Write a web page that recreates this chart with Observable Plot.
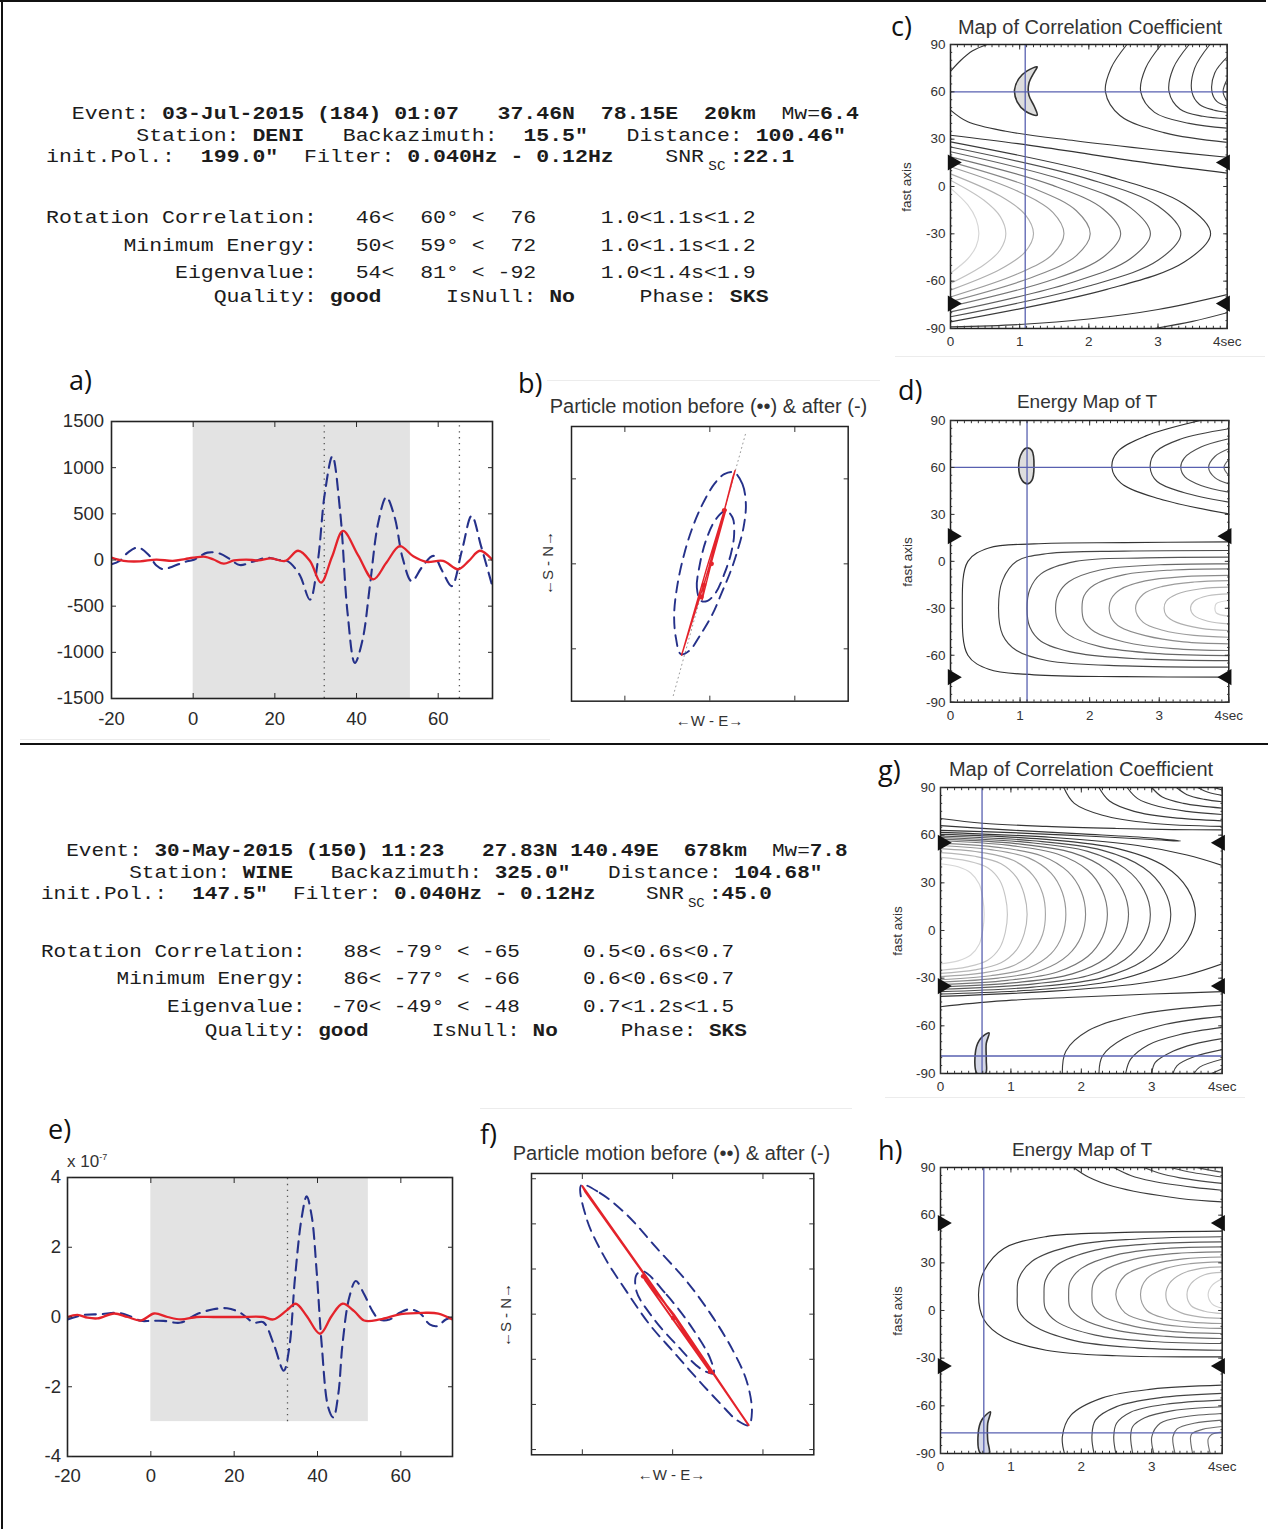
<!DOCTYPE html>
<html><head><meta charset="utf-8">
<script src="https://cdn.jsdelivr.net/npm/d3@7"></script>
<script src="https://cdn.jsdelivr.net/npm/@observablehq/plot@0.6"></script>
<style>
html,body{margin:0;padding:0;background:#fff;}
#fig{position:relative;width:1279px;height:1529px;overflow:hidden;background:#fff;}
.info{position:absolute;font-family:"Liberation Mono","DejaVu Sans Mono",monospace;font-size:18px;line-height:18px;white-space:pre;color:#1c1c1c;letter-spacing:0;transform-origin:0 0;}
.t1{transform:scaleX(1.1944);}
.t2{transform:scaleX(1.1667);}
.sc{display:inline-block;width:21.6px;font-size:12px;line-height:12px;letter-spacing:0;text-align:center;position:relative;top:8px;font-weight:normal;}
.lab{position:absolute;font-family:"Open Sans","Lato",sans-serif;font-size:27px;line-height:30px;color:#111;white-space:nowrap;}
.ttl{position:absolute;font-family:"Liberation Sans",Arial,sans-serif;text-align:center;white-space:nowrap;color:#333;}
.ln{position:absolute;}
</style></head>
<body><div id="fig">
<div class="ln" style="left:0;top:0;width:1266px;height:2px;background:#111"></div>
<div class="ln" style="left:1px;top:0;width:2px;height:1529px;background:#111"></div>
<div class="ln" style="left:20px;top:743px;width:1248px;height:2px;background:#111"></div>
<div class="ln" style="left:20px;top:739px;width:530px;height:1px;background:#ececec"></div>
<div class="ln" style="left:547px;top:380px;width:333px;height:1px;background:#ececec"></div>
<div class="ln" style="left:895px;top:356px;width:370px;height:1px;background:#ececec"></div>
<div class="ln" style="left:885px;top:1097px;width:360px;height:1px;background:#ececec"></div>
<div class="ln" style="left:480px;top:1108px;width:372px;height:1px;background:#ececec"></div>

<div class="info t1" style="left:46px;top:105px">  Event: <b>03-Jul-2015 (184) 01:07   37.46N  78.15E  20km</b>  Mw=<b>6.4</b></div>
<div class="info t1" style="left:46px;top:127px">       Station: <b>DENI</b>   Backazimuth:  <b>15.5″</b>   Distance: <b>100.46″</b></div>
<div class="info t1" style="left:46px;top:148px">init.Pol.:  <b>199.0″</b>  Filter: <b>0.040Hz - 0.12Hz</b>    SNR<span class="sc">SC</span><b>:22.1</b></div>
<div class="info t1" style="left:46px;top:209px">Rotation Correlation:   46&lt;  60° &lt;  76     1.0&lt;1.1s&lt;1.2</div>
<div class="info t1" style="left:46px;top:237px">      Minimum Energy:   50&lt;  59° &lt;  72     1.0&lt;1.1s&lt;1.2</div>
<div class="info t1" style="left:46px;top:264px">          Eigenvalue:   54&lt;  81° &lt; -92     1.0&lt;1.4s&lt;1.9</div>
<div class="info t1" style="left:46px;top:288px">             Quality: <b>good</b>     IsNull: <b>No</b>     Phase: <b>SKS</b></div>

<div class="info t2" style="left:41px;top:842px">  Event: <b>30-May-2015 (150) 11:23   27.83N 140.49E  678km</b>  Mw=<b>7.8</b></div>
<div class="info t2" style="left:41px;top:864px">       Station: <b>WINE</b>   Backazimuth: <b>325.0″</b>   Distance: <b>104.68″</b></div>
<div class="info t2" style="left:41px;top:885px">init.Pol.:  <b>147.5″</b>  Filter: <b>0.040Hz - 0.12Hz</b>    SNR<span class="sc">SC</span><b>:45.0</b></div>
<div class="info t2" style="left:41px;top:943px">Rotation Correlation:   88&lt; -79° &lt; -65     0.5&lt;0.6s&lt;0.7</div>
<div class="info t2" style="left:41px;top:970px">      Minimum Energy:   86&lt; -77° &lt; -66     0.6&lt;0.6s&lt;0.7</div>
<div class="info t2" style="left:41px;top:998px">          Eigenvalue:  -70&lt; -49° &lt; -48     0.7&lt;1.2s&lt;1.5</div>
<div class="info t2" style="left:41px;top:1022px">             Quality: <b>good</b>     IsNull: <b>No</b>     Phase: <b>SKS</b></div>
</div>
<script>
const BLUE = "#25318a", RED = "#e4232b", CROSS = "#5860b0";

// ---------- panel a: waveforms (event 1) ----------
const aBlueT = [-20,-18,-16,-13.5,-11,-9,-7.3,-5,-2,0,3.5,6.5,9,11.4,14.5,18,21,23,26,28.6,30.5,32.2,34.1,36,37.8,39.6,41.5,43.3,45.3,47.3,49.3,51.3,53.5,56,58.8,61,63.3,65.8,68.2,70.5,73.3];
const aBlueV = [-47,-10,80,135,60,-60,-100,-70,-20,0,80,70,10,-55,-20,25,0,-10,-155,-430,-20,710,1125,520,-570,-1115,-860,-270,400,680,470,20,-230,-80,45,-120,-283,100,478,150,-290];
const aRedT = [-20,-17,-13,-9,-5,-2,0,3,5,7.5,10,13,16,19,22.5,25.7,28.6,31.3,34,36.7,40.4,44.1,47.3,50.6,53.9,57.1,61.2,64.9,67.5,70.2,73.3];
const aRedV = [25,-10,-15,5,-10,10,25,35,5,-40,-5,5,-5,18,-10,100,-10,-245,35,315,50,-210,-30,150,40,-20,-10,-100,-10,100,0];
const aXTicks = [-20,0,20,40,60];
const aYTicks = [-1500,-1000,-500,0,500,1000,1500];
const aXRange = [-20,73.3];
const aWindow = [0,53.2];
const aPicks = [32.1,65.2];

// ---------- panel e: waveforms (event 2) ----------
const eBlueT = [-20,-16,-12,-8,-5,-2.4,0,3,7.2,11,15,18.3,21.5,24.7,27,29.5,31.9,33.2,34.6,36.2,37.4,38.6,39.8,41,42.6,43.8,45,46,47.6,49.2,51.2,53.2,54.8,57.3,59.7,62.1,64.5,66.9,68.8,70.8,72.4];
const eBlueV = [-0.07,0.06,0.08,0.12,0.02,-0.11,-0.11,-0.11,-0.16,0.08,0.22,0.25,0.12,-0.16,-0.15,-0.78,-1.54,-0.9,1.12,2.85,3.46,2.9,1.3,-0.78,-2.6,-2.88,-2.2,-0.78,0.55,1.03,0.65,0.17,-0.07,-0.07,0.12,0.22,0.12,-0.21,-0.26,-0.07,-0.02];
const eRedT = [-20,-17.6,-15.2,-12.8,-8.8,-5.6,-2.4,0.8,4,7.2,11,15,21.5,27,29.4,32.6,34.8,37.4,40.6,43.4,46,48.8,51.2,55,60,65.3,69,72.4];
const eRedV = [0,0.06,-0.02,-0.04,0.1,0,-0.1,0.1,0,-0.07,0,0,0,0,-0.07,0.19,0.38,0.03,-0.48,0.03,0.38,0.17,-0.1,-0.07,0.08,0.12,0.1,-0.07];
const eXTicks = [-20,0,20,40,60];
const eYTicks = [-4,-2,0,2,4];
const eXRange = [-20,72.4];
const eWindow = [0,52.2];
const eWindowY = [-3,4];
const ePicks = [32.8];

// ---------- panels b, f: particle motion (E, N in tick units) ----------
const bBlueOuter = [0.286,1.075, 0.384,0.937, 0.424,0.702, 0.396,0.427, 0.325,0.153, 0.247,-0.082, 0.149,-0.318, 0.031,-0.592, -0.106,-0.827, -0.243,-1.024, -0.341,-1.063, -0.4,-0.867, -0.42,-0.592, -0.38,-0.239, -0.302,0.114, -0.204,0.427, -0.086,0.702, 0.051,0.937, 0.169,1.055];
const bBlueInner = [-0.106,-0.435, -0.153,-0.278, -0.125,-0.043, -0.047,0.271, 0.071,0.525, 0.188,0.624, 0.267,0.545, 0.286,0.349, 0.247,0.114, 0.169,-0.122, 0.071,-0.337, -0.027,-0.435];
const bRed = [0,0, 0.298,1.1, 0.27,1.02, 0.03,0.08, -0.333,-1.075, -0.31,-1.0, -0.04,-0.06, 0.17,0.63, 0.19,0.64, 0.02,0.02, -0.09,-0.42, -0.07,-0.25, 0,0];
const bRedDots = [0.17,0.63, 0.02,0.0, -0.07,-0.25, -0.1,-0.39];
const bPol = [-0.43,-1.55, 0.42,1.53];
const bTicksX = [-1,0,1], bTicksY = [-1,0,1];

const fBlueOuter = [-1.011,1.43, -0.807,1.344, -0.511,1.104, -0.178,0.733, 0.156,0.363, 0.452,-0.044, 0.674,-0.415, 0.822,-0.748, 0.878,-1.081, 0.841,-1.23, 0.711,-1.174, 0.526,-0.989, 0.267,-0.711, 0.007,-0.415, -0.252,-0.119, -0.511,0.252, -0.77,0.659, -0.956,1.067];
const fBlueInner = [-0.326,0.474, -0.067,0.215, 0.193,-0.119, 0.415,-0.489, 0.452,-0.656, 0.304,-0.6, 0.044,-0.341, -0.215,-0.044, -0.4,0.252, -0.4,0.437];
const fRed = [0,0, -1.0,1.418, -0.97,1.36, 0.02,-0.03, 0.841,-1.23, 0.8,-1.17, 0.01,0, -0.326,0.419, -0.3,0.37, 0.415,-0.637, 0.39,-0.6, 0,0];
const fRedDots = [-0.326,0.419, 0.007,-0.044, 0.415,-0.637];
const fTicksX = [-1,0,1], fTicksY = [-1.5,-1,-0.5,0,0.5,1,1.5];

// ---------- contour maps: delay time (s) vs fast axis (deg) ----------
const mapXTicks = [0,1,2,3,4];
const mapYTicks = [-90,-60,-30,0,30,60,90];

// c) correlation map, event 1
const cLower = [
 [0,-1, 0.25,-11.7, 0.37,-20.7, 0.41,-30, 0.37,-38, 0.25,-45.8, 0,-55],
 [0,4, 0.48,-8.6, 0.72,-19.1, 0.8,-30, 0.72,-40.1, 0.48,-49.8, 0,-61.5],
 [0,8, 0.72,-6.1, 1.08,-17.8, 1.2,-30, 1.08,-41.4, 0.72,-52.5, 0,-65.7],
 [0,12.5, 0.98,-3.2, 1.48,-16.4, 1.64,-30, 1.48,-42.8, 0.98,-55.2, 0,-70],
 [0,15.6, 1.21,-1.3, 1.82,-15.4, 2.02,-30, 1.82,-43.8, 1.21,-57.1, 0,-73],
 [0,18.8, 1.48,0.7, 2.21,-14.4, 2.46,-30, 2.21,-44.7, 1.48,-59, 0,-76],
 [0,22, 1.73,2.8, 2.6,-13.4, 2.89,-30, 2.6,-45.8, 1.73,-61.2, 0,-79.5],
 [0,25, 2.0,4.7, 3.0,-12.4, 3.33,-30, 3.0,-46.8, 2.0,-63.1, 0,-82.6],
 [0,28.3, 2.26,6.7, 3.38,-11.3, 3.76,-30, 3.38,-47.9, 2.26,-65.2, 0,-85.8]
];
const cOther = [
 [0,32.5, 1,27, 2,20.5, 3,14, 4,8.5],
 [0,48.4, 0.25,41, 0.8,35, 1.8,29, 3,23, 4,18.5],
 [0,73, 0.15,80, 0.32,86, 0.53,90],
 [0,-89, 1,-87.5, 2,-84, 3,-78, 4,-68.5],
 [2.95,-90, 3.5,-85.5, 4,-80],
 [2.55,90, 2.32,75, 2.24,60, 2.45,45, 3.1,34, 4,28],
 [3.05,90, 2.82,75, 2.75,60, 2.95,47, 3.45,40, 4,37],
 [3.45,90, 3.22,75, 3.16,60, 3.32,49, 3.65,44.5, 4,43],
 [3.75,90, 3.53,75, 3.49,60, 3.6,52, 3.8,48.5, 4,47],
 [4,82, 3.82,72, 3.78,60, 3.85,54, 4,51],
 [4,68, 3.94,60, 4,54]
];
const cRegion = [1.253,75.8, 1.108,73.3, 0.988,68.4, 0.925,61.1, 0.964,53.7, 1.084,47.7, 1.253,45.2, 1.214,50.5, 1.133,57.9, 1.133,65.3, 1.214,72.7];
const cBest = [1.08, 60];
const cTri = [15.2, -74.2];

// d) energy map, event 1
const dUpper = [
 [3.59,90, 2.8,80, 2.4,70, 2.32,60, 2.45,50, 3.0,40, 4,30.3],
 [4,84.7, 3.3,78, 2.95,70, 2.87,60, 2.97,51, 3.35,44, 4,37.8],
 [4,78.3, 3.6,73, 3.36,66, 3.31,60, 3.37,54, 3.6,48.5, 4,44.2],
 [4,71.9, 3.8,67, 3.71,60, 3.8,53.5, 4,49.5],
 [4,65, 3.93,60, 4,55]
];
const dLower = [
 [4,12.4, 2.5,12, 1.2,11.2, 0.55,8.5, 0.25,0, 0.17,-30, 0.25,-60, 0.55,-69, 1.2,-72.5, 2.5,-73.7, 4,-74],
 [4,6.9, 2.5,6.5, 1.4,5, 0.95,0, 0.75,-12, 0.69,-30, 0.75,-47, 0.95,-57, 1.4,-63.5, 2.5,-66.8, 4,-67.6],
 [4,2.7, 2.8,2.2, 1.8,0, 1.3,-8, 1.14,-18, 1.1,-30, 1.14,-42, 1.3,-51, 1.8,-58.5, 2.8,-62.5, 4,-63.4],
 [4,-1.6, 3,-2.2, 2.15,-5.5, 1.7,-13, 1.55,-21, 1.51,-30, 1.55,-39, 1.7,-47, 2.15,-54.5, 3,-59, 4,-60.2],
 [4,-4.8, 3.2,-5.5, 2.5,-8.5, 2.07,-15, 1.92,-22, 1.89,-30, 1.92,-38, 2.07,-45, 2.5,-51.5, 3.2,-55.8, 4,-57],
 [4,-9, 3.35,-9.8, 2.8,-12.5, 2.44,-18, 2.31,-24, 2.28,-30, 2.31,-36, 2.44,-42, 2.8,-47.5, 3.35,-51.5, 4,-52.7],
 [4,-12.3, 3.5,-13.2, 3.05,-16, 2.77,-21, 2.66,-30, 2.77,-39, 3.05,-44, 3.5,-47.3, 4,-48.5],
 [4,-16.5, 3.6,-17.5, 3.25,-21, 3.1,-25.5, 3.07,-30, 3.1,-34.5, 3.25,-39, 3.6,-42.8, 4,-44.2],
 [4,-20.8, 3.7,-22, 3.5,-25.5, 3.45,-30, 3.5,-34.5, 3.7,-38.3, 4,-40],
 [4,-25, 3.82,-27, 3.8,-30, 3.82,-33, 4,-35]
];
const dRegion = [1.03,69.8, 1.1,72.5, 1.17,70.8, 1.2,60.2, 1.17,51.7, 1.11,49.5, 1.03,51.7, 0.98,60.2];
const dBest = [1.1, 60];
const dTri = [16.1, -74];

// g) correlation map, event 2
const gCenter = [
 [0,42, 0.25,40.1, 0.43,36.2, 0.55,29.2, 0.60,20.2, 0.62,10, 0.60,0.1, 0.55,-8.6, 0.43,-15.4, 0.25,-19.1, 0,-21],
 [0,46, 0.38,43.8, 0.67,39.5, 0.84,31.6, 0.92,21.5, 0.95,10, 0.92,-1.2, 0.84,-11, 0.67,-18.7, 0.38,-22.9, 0,-25],
 [0,49, 0.49,46.7, 0.86,42, 1.08,33.4, 1.19,22.5, 1.23,10, 1.19,-1.8, 1.08,-12.2, 0.86,-20.3, 0.49,-24.8, 0,-27],
 [0,51.5, 0.6,49, 1.04,44, 1.31,34.9, 1.45,23.3, 1.49,10, 1.45,-2.5, 1.31,-13.4, 1.04,-22, 0.6,-26.7, 0,-29],
 [0,53.5, 0.71,50.9, 1.25,45.7, 1.57,36.1, 1.73,23.9, 1.78,10, 1.73,-3.1, 1.57,-14.6, 1.25,-23.6, 0.71,-28.5, 0,-31],
 [0,55, 0.82,52.3, 1.44,46.9, 1.81,37, 2.0,24.4, 2.06,10, 2.0,-3.6, 1.81,-15.5, 1.44,-24.9, 0.82,-30, 0,-32.5],
 [0,56.5, 0.95,53.7, 1.66,48.1, 2.09,37.9, 2.3,24.9, 2.37,10, 2.3,-4.1, 2.09,-16.4, 1.66,-26.1, 0.95,-31.4, 0,-34],
 [0,57.5, 1.07,54.7, 1.87,49, 2.35,38.5, 2.59,25.2, 2.67,10, 2.59,-4.6, 2.35,-17.3, 1.87,-27.3, 1.07,-32.8, 0,-35.5],
 [0,58.5, 1.19,55.6, 2.09,49.8, 2.62,39.1, 2.89,25.5, 2.98,10, 2.89,-5, 2.62,-18.2, 2.09,-28.5, 1.19,-34.2, 0,-37],
 [0,59.5, 1.31,56.5, 2.29,50.6, 2.88,39.7, 3.17,25.8, 3.27,10, 3.17,-5.5, 2.88,-19.1, 2.29,-29.8, 1.31,-35.6, 0,-38.5],
 [0,60.5, 1.45,57.5, 2.53,51.4, 3.19,40.3, 3.51,26.2, 3.62,10, 3.51,-6, 3.19,-20, 2.53,-31, 1.45,-37, 0,-40]
];
const gOther = [
 [0,61.8, 1.6,58.5, 2.8,53.5, 3.5,47.5, 4,41],
 [0,-41.5, 1.6,-38.2, 2.8,-33.5, 3.5,-28, 4,-21],
 [0,66, 1,63.2, 2,60.8, 3,58.2, 3.41,56.3, 3,57.3, 2,59.6, 1,61.6, 0,63],
 [0,70.5, 0.6,67.5, 1.5,65.5, 2.5,64.2, 3.3,63.5, 4,63.3],
 [0,-48, 0.8,-44.5, 1.8,-42.2, 3,-40, 4,-38.5],
 [1.75,90, 1.9,80, 2.3,72.5, 3,67.5, 4,65.5],
 [2.25,90, 2.4,81.5, 2.75,75, 3.3,71, 4,69],
 [2.65,90, 2.8,83, 3.1,78, 3.5,75, 4,73],
 [3.0,90, 3.15,84, 3.45,80, 4,77],
 [3.35,90, 3.5,85.5, 3.75,82.5, 4,81],
 [3.65,90, 3.8,87, 4,85],
 [3.88,90, 4,88.5],
 [1.73,-90, 1.78,-76, 2.1,-63, 2.8,-53, 4,-47],
 [2.25,-90, 2.3,-79, 2.6,-68, 3.2,-59, 4,-54],
 [2.63,-90, 2.7,-81, 2.95,-72, 3.4,-65.5, 4,-61],
 [3.0,-90, 3.05,-83, 3.3,-76, 3.6,-71.5, 4,-68],
 [3.3,-90, 3.36,-85, 3.6,-79.5, 4,-75],
 [3.6,-90, 3.68,-86, 4,-81],
 [3.85,-90, 4,-87]
];
const gRegion = [0.52,-90, 0.5,-75.3, 0.57,-68, 0.69,-64.4, 0.65,-71.1, 0.65,-81.6, 0.64,-90];
const gBest = [0.59, -79];
const gTri = [55.2, -35];

// h) energy map, event 2
const hCenter = [
 [4,50, 2.5,49, 1.5,46.5, 0.9,39, 0.62,25, 0.54,10, 0.62,-6, 0.9,-17, 1.5,-25, 2.5,-28.5, 4,-29.2],
 [4,46.4, 2.8,45, 1.9,41, 1.3,31, 1.11,20, 1.09,10, 1.11,0, 1.3,-9, 1.9,-19, 2.8,-23.5, 4,-25],
 [4,43.2, 3,42, 2.2,38, 1.65,28.5, 1.49,19, 1.47,10, 1.49,1, 1.65,-7, 2.2,-15.5, 3,-19.5, 4,-20.8],
 [4,40, 3.2,39, 2.5,35, 2.0,26.5, 1.84,18, 1.82,10, 1.84,2, 2.0,-5, 2.5,-12.5, 3.2,-16.3, 4,-17.6],
 [4,36.9, 3.3,35.8, 2.75,32.3, 2.3,24.5, 2.17,17, 2.15,10, 2.17,3, 2.3,-3.5, 2.75,-10, 3.3,-13.3, 4,-14.5],
 [4,33.7, 3.45,32.5, 3.0,29, 2.62,22, 2.49,10, 2.62,-1.5, 3.0,-7.5, 3.45,-10.2, 4,-11.3],
 [4,30.6, 3.55,29.5, 3.2,26.5, 2.93,20, 2.84,10, 2.93,0, 3.2,-5, 3.55,-7.3, 4,-8.2],
 [4,27.5, 3.7,26.5, 3.42,23, 3.25,17, 3.2,10, 3.25,3, 3.42,-1.5, 3.7,-4.2, 4,-5],
 [4,24, 3.75,22.5, 3.56,17, 3.5,10, 3.56,3, 3.75,-0.5, 4,-2],
 [4,20, 3.86,16, 3.8,10, 3.86,4, 4,1.5]
];
const hTop = [
 [1.89,90, 2.1,84, 2.46,78, 3.4,70.5, 4,68.4],
 [2.46,90, 2.7,85, 3.0,81.5, 3.6,77.5, 4,75.7],
 [2.89,90, 3.1,86.5, 3.4,83.5, 4,80],
 [3.27,90, 3.5,87.5, 4,84],
 [3.64,90, 3.8,88.5, 4,87]
];
const hBottom = [
 [4,-47, 3,-49.5, 2.3,-55, 1.85,-66, 1.73,-79.5, 1.76,-90],
 [4,-52.2, 3.1,-55, 2.5,-60.5, 2.2,-69, 2.15,-79.5, 2.18,-90],
 [4,-56.4, 3.2,-59, 2.7,-64, 2.5,-71, 2.46,-79.5, 2.49,-90],
 [4,-60.6, 3.3,-63, 2.9,-67.5, 2.73,-73, 2.7,-79.5, 2.73,-90],
 [4,-64.8, 3.45,-67, 3.12,-71, 3.0,-79.5, 3.03,-90],
 [4,-69, 3.6,-71, 3.36,-74.5, 3.3,-79.5, 3.33,-90],
 [4,-73, 3.72,-74.8, 3.57,-77.5, 3.55,-80, 3.58,-90],
 [4,-76.5, 3.85,-78, 3.8,-81, 3.83,-90]
];
const hRegion = [0.57,-90, 0.535,-77.4, 0.59,-68.6, 0.71,-63.8, 0.67,-71.1, 0.67,-81.6, 0.69,-90];
const hBest = [0.615, -77];
const hTri = [55, -35];

// ---------- helpers ----------
const fig = document.getElementById("fig");
function pts(flat) { const o = []; for (let i = 0; i < flat.length; i += 2) o.push({x: flat[i], y: flat[i + 1]}); return o; }
function zip(t, v) { return t.map((d, i) => ({t: d, v: v[i]})); }
function fmt(d) { return String(d); }

function mount(svg, box, m) {
  svg.style.position = "absolute";
  svg.style.left = (box.l - m.l) + "px";
  svg.style.top = (box.t - m.t) + "px";
  svg.style.overflow = "visible";
  svg.style.background = "transparent";
  fig.appendChild(svg);
}

function plotIn(box, m, x, y, marks, fontSize) {
  const svg = Plot.plot({
    width: box.r - box.l + m.l + m.r,
    height: box.b - box.t + m.t + m.b,
    marginLeft: m.l, marginRight: m.r, marginTop: m.t, marginBottom: m.b,
    x: {domain: x}, y: {domain: y},
    style: {fontFamily: "'Liberation Sans', Arial, sans-serif", fontSize: fontSize + "px", background: "transparent", color: "#222"},
    marks
  });
  mount(svg, box, m);
}

function boxAxes(o) {
  const c = o.color || "#222";
  const common = {label: null, color: c, fontSize: o.fontSize};
  const out = [
    Plot.axisX({...common, anchor: "bottom", ticks: o.xTicks, tickSize: -o.tick, tickPadding: o.tick + (o.xPad || 6), tickFormat: o.xFmt || fmt, fill: o.labels === false ? "none" : c}),
    Plot.axisX({...common, anchor: "top", ticks: o.xTicks, tickSize: -o.tick, fill: "none"}),
    Plot.axisY({...common, anchor: "left", ticks: o.yTicks, tickSize: -o.tick, tickPadding: o.tick + (o.yPad || 6), tickFormat: o.yFmt || fmt, fill: o.labels === false ? "none" : c}),
    Plot.axisY({...common, anchor: "right", ticks: o.yTicks, tickSize: -o.tick, fill: "none"})
  ];
  if (o.xMinor) {
    out.push(Plot.axisX({...common, anchor: "bottom", ticks: o.xMinor, tickSize: -o.minor, fill: "none"}));
    out.push(Plot.axisX({...common, anchor: "top", ticks: o.xMinor, tickSize: -o.minor, fill: "none"}));
  }
  if (o.yMinor) {
    out.push(Plot.axisY({...common, anchor: "left", ticks: o.yMinor, tickSize: -o.minor, fill: "none"}));
    out.push(Plot.axisY({...common, anchor: "right", ticks: o.yMinor, tickSize: -o.minor, fill: "none"}));
  }
  return out;
}

function seriesPanel(box, c) {
  const yr = [c.yTicks[0], c.yTicks[c.yTicks.length - 1]];
  const wy = c.windowY || yr;
  const marks = [
    Plot.rect([c.window], {x1: d => d[0], x2: d => d[1], y1: () => wy[0], y2: () => wy[1], fill: "#e3e3e3"}),
    Plot.ruleX(c.picks, {x: d => d, y1: () => wy[0], y2: () => wy[1], stroke: "#555", strokeWidth: 1.3, strokeDasharray: "1.3,4.6"}),
    Plot.line(zip(c.blueT, c.blueV), {x: "t", y: "v", stroke: BLUE, strokeWidth: 2.1, strokeDasharray: "11,7", curve: "catmull-rom", clip: true}),
    Plot.line(zip(c.redT, c.redV), {x: "t", y: "v", stroke: RED, strokeWidth: 2.3, curve: "catmull-rom", clip: true}),
    Plot.frame({stroke: "#222", strokeWidth: 1.6}),
    ...boxAxes({xTicks: c.xTicks, yTicks: c.yTicks, tick: 5, xPad: c.xPad, yPad: c.yPad, fontSize: 18.5, color: "#2a2a2a"})
  ];
  plotIn(box, {l: 75, r: 20, t: 20, b: 42}, c.xRange, yr, marks, 18.5);
}

function particlePanel(box, c) {
  const marks = [];
  if (c.pol) marks.push(Plot.line(pts(c.pol), {x: "x", y: "y", stroke: "#9a9a9a", strokeWidth: 1, strokeDasharray: "1,3.5"}));
  marks.push(Plot.line(pts(c.blueOuter), {x: "x", y: "y", stroke: BLUE, strokeWidth: 1.9, strokeDasharray: "11,7", curve: "catmull-rom-closed"}));
  marks.push(Plot.line(pts(c.blueInner), {x: "x", y: "y", stroke: BLUE, strokeWidth: 1.9, strokeDasharray: "11,7", curve: "catmull-rom-closed"}));
  marks.push(Plot.line(pts(c.red), {x: "x", y: "y", stroke: RED, strokeWidth: c.redWidth, curve: "linear"}));
  marks.push(Plot.dot(pts(c.redDots), {x: "x", y: "y", r: 2.4, fill: RED}));
  marks.push(Plot.frame({stroke: "#222", strokeWidth: 1.5}));
  marks.push(...boxAxes({xTicks: c.xTicks, yTicks: c.yTicks, tick: 5, labels: false, fontSize: 12, color: "#333"}));
  plotIn(box, {l: 30, r: 20, t: 20, b: 30}, c.xDom, c.yDom, marks, 12);
}

function contourPanel(box, c) {
  const marks = [];
  for (const g of c.groups) {
    const n = g.curves.length;
    const interp = d3.interpolateRgb(g.from, g.to);
    g.curves.forEach((cv, i) => {
      marks.push(Plot.line(pts(cv), {x: "x", y: "y", stroke: n > 1 ? interp(i / (n - 1)) : g.from, strokeWidth: 1.15, curve: "catmull-rom", clip: true}));
    });
  }
  marks.push(Plot.line(pts(c.region), {x: "x", y: "y", fill: c.regionFill, stroke: "#333", strokeWidth: 1.6, curve: "catmull-rom-closed", clip: true}));
  marks.push(Plot.ruleX([c.best[0]], {x: d => d, stroke: CROSS, strokeWidth: 1.3}));
  marks.push(Plot.ruleY([c.best[1]], {y: d => d, stroke: CROSS, strokeWidth: 1.3}));
  marks.push(Plot.frame({stroke: "#222", strokeWidth: 1.5}));
  marks.push(...boxAxes({
    xTicks: mapXTicks, yTicks: mapYTicks, tick: 4.5, xPad: 8, yPad: 5, fontSize: 13.5, color: "#333",
    xFmt: d => d === mapXTicks[mapXTicks.length - 1] ? d + "sec" : String(d),
    xMinor: d3.range(0, 4.001, 0.1), yMinor: d3.range(-90, 90.1, 5), minor: 2.2
  }));
  marks.push(Plot.dot(c.tri, {x: () => mapXTicks[0], y: d => d, symbol: "triangle", r: 6, fill: "#111", rotate: 90, dx: 2}));
  marks.push(Plot.dot(c.tri, {x: () => mapXTicks[mapXTicks.length - 1], y: d => d, symbol: "triangle", r: 6, fill: "#111", rotate: -90, dx: -2}));
  plotIn(box, {l: 45, r: 25, t: 12, b: 28}, [mapXTicks[0], mapXTicks[mapXTicks.length - 1]], [mapYTicks[0], mapYTicks[mapYTicks.length - 1]], marks, 13.5);
}

// ---------- draw ----------
seriesPanel({l: 111, t: 421, r: 492, b: 698}, {
  blueT: aBlueT, blueV: aBlueV, redT: aRedT, redV: aRedV, xTicks: aXTicks, yTicks: aYTicks,
  xRange: aXRange, window: aWindow, picks: aPicks, xPad: 13, yPad: 7.5
});
seriesPanel({l: 67, t: 1177, r: 452, b: 1456}, {
  blueT: eBlueT, blueV: eBlueV, redT: eRedT, redV: eRedV, xTicks: eXTicks, yTicks: eYTicks,
  xRange: eXRange, window: eWindow, windowY: eWindowY, picks: ePicks, xPad: 12, yPad: 6.5
});
particlePanel({l: 571, t: 426, r: 847.7, b: 700.7}, {
  blueOuter: bBlueOuter, blueInner: bBlueInner, red: bRed, redDots: bRedDots, pol: bPol, redWidth: 1.4,
  xTicks: bTicksX, yTicks: bTicksY, xDom: [-1.628, 1.628], yDom: [-1.616, 1.616]
});
particlePanel({l: 531, t: 1172.7, r: 813.3, b: 1454}, {
  blueOuter: fBlueOuter, blueInner: fBlueInner, red: fRed, redDots: fRedDots, redWidth: 2,
  xTicks: fTicksX, yTicks: fTicksY, xDom: [-1.563, 1.563], yDom: [-1.558, 1.558]
});
contourPanel({l: 950, t: 44.3, r: 1226.7, b: 328.3}, {
  groups: [{curves: cLower, from: "#d6d6d6", to: "#3a3a3a"}, {curves: cOther, from: "#333", to: "#444"}],
  region: cRegion, regionFill: "#dddddd", best: cBest, tri: cTri
});
contourPanel({l: 950, t: 420, r: 1228.3, b: 701.7}, {
  groups: [{curves: dUpper, from: "#333", to: "#666"}, {curves: dLower, from: "#333", to: "#d2d2d2"}],
  region: dRegion, regionFill: "#dddddd", best: dBest, tri: dTri
});
contourPanel({l: 940, t: 787.3, r: 1221.7, b: 1073.3}, {
  groups: [{curves: gCenter, from: "#d6d6d6", to: "#3a3a3a"}, {curves: gOther, from: "#333", to: "#444"}],
  region: gRegion, regionFill: "#d4d7e6", best: gBest, tri: gTri
});
contourPanel({l: 940, t: 1167.3, r: 1221.7, b: 1453.3}, {
  groups: [{curves: hCenter, from: "#333", to: "#d2d2d2"}, {curves: hTop, from: "#3a3a3a", to: "#555"}, {curves: hBottom, from: "#3a3a3a", to: "#777"}],
  region: hRegion, regionFill: "#d4d7e6", best: hBest, tri: hTri
});

// ---------- texts ----------
function addText(cls, html, cx, cy, size, opts = {}) {
  const d = document.createElement("div");
  d.className = cls;
  d.innerHTML = html;
  const w = opts.w || 420, lh = size * 1.2;
  d.style.fontSize = size + "px";
  d.style.lineHeight = lh + "px";
  d.style.width = w + "px";
  d.style.left = (cx - w / 2) + "px";
  d.style.top = (cy - lh / 2) + "px";
  if (opts.rot) d.style.transform = "rotate(-90deg)";
  if (opts.align) d.style.textAlign = opts.align;
  fig.appendChild(d);
}
function addLabel(txt, left, cy) {
  const d = document.createElement("div");
  d.className = "lab";
  d.textContent = txt;
  d.style.left = (left - 2) + "px";
  d.style.top = (cy - 16) + "px";
  fig.appendChild(d);
}
addLabel("a)", 71, 381); addLabel("b)", 520, 384); addLabel("c)", 893, 27);
addLabel("d)", 900, 391); addLabel("e)", 50, 1130); addLabel("f)", 482, 1135);
addLabel("g)", 880, 771); addLabel("h)", 880, 1151);

addText("ttl", "Map of Correlation Coefficient", 1090, 27, 20);
addText("ttl", "Energy Map of T", 1087, 402, 19);
addText("ttl", "Map of Correlation Coefficient", 1081, 769, 20);
addText("ttl", "Energy Map of T", 1082, 1150, 19);
addText("ttl", "Particle motion before (••) &amp; after (-)", 708.5, 406, 20);
addText("ttl", "Particle motion before (••) &amp; after (-)", 671.5, 1153, 20);

addText("ttl", "fast axis", 907, 187, 13.5, {w: 120, rot: true});
addText("ttl", "fast axis", 908, 562, 13.5, {w: 120, rot: true});
addText("ttl", "fast axis", 898, 931, 13.5, {w: 120, rot: true});
addText("ttl", "fast axis", 898, 1311, 13.5, {w: 120, rot: true});

addText("ttl", "←W - E→", 709.5, 721, 15, {w: 120});
addText("ttl", "←W - E→", 671.5, 1475, 15, {w: 120});
addText("ttl", "←S - N→", 547.5, 563, 15, {w: 120, rot: true});
addText("ttl", "←S - N→", 506, 1315, 15, {w: 120, rot: true});

addText("ttl", "x 10<sup style=\"font-size:9px\">-7</sup>", 67 + 60, 1157, 17, {w: 120, align: "left"});
</script>
</body></html>
